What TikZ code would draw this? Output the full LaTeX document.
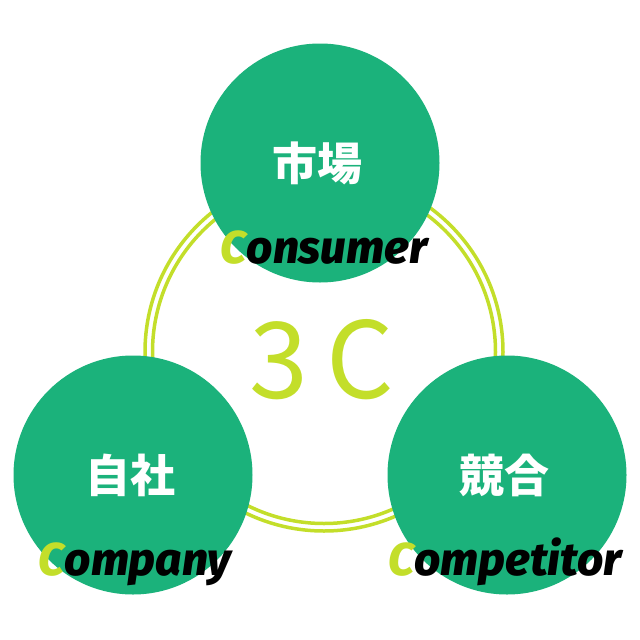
\documentclass[tikz,border=0pt]{standalone}
\usepackage{xcolor}
\usepackage{fontspec}
\usepackage{tikz}
\definecolor{cgreen}{HTML}{1BB27B}
\definecolor{clime}{HTML}{C3DE2A}
\newfontfamily\jpfont{Noto Sans CJK JP}
\IfFontExistsTF{Fira Sans ExtraBold Italic}{%
  \newfontfamily\enfont{Fira Sans ExtraBold Italic}}{%
  \newfontfamily\enfont{Fira Sans}[UprightFont=* Bold Italic]}
\newfontfamily\thinfont{Noto Sans CJK JP}
\usetikzlibrary{positioning, calc}
\tikzset{
    area/.style={circle, fill=cgreen, minimum size=239pt, inner sep=0pt, text=white, font=\jpfont\bfseries\fontsize{45}{45}\selectfont},
    enlabel/.style={anchor=base, inner sep=0pt, text=black, font=\enfont\fontsize{46}{46}\selectfont},
    ring/.style={draw=clime, line width=3.5pt}
}
\newcommand{\lc}[1]{{\color{clime}#1}}

\begin{document}
\begin{tikzpicture}[x=1pt, y=-1pt]
    \useasboundingbox (0,0) rectangle (640,640);
    % double ring behind the circles
    \coordinate (hub) at (324,352);
    \draw[ring] (hub) circle[radius=179];
    \draw[ring] (hub) circle[radius=171.5];

    \node[anchor=base, inner sep=0pt, text=clime, font=\thinfont\fontsize{106}{106}\selectfont] (title) at (322,398) {3\hspace{18pt}C};

    \node[area] (mkt) at (320,163) {\hspace*{-6pt}市場};
    \node[area] (own) at (133,475) {\hspace*{-6pt}自社};
    \node[area] (rival) at (507,475) {\hspace*{-6pt}競合};

    \node[enlabel] (mktlbl) at ([xshift=4pt, yshift=19pt]mkt.south) {\lc{C}onsumer};
    \node[enlabel] (ownlbl) at ([xshift=2pt, yshift=19pt]own.south) {\lc{C}ompany};
    \node[enlabel] (rivallbl) at ([xshift=-2pt, yshift=19pt]rival.south) {\lc{C}ompetitor};
\end{tikzpicture}
\end{document}
